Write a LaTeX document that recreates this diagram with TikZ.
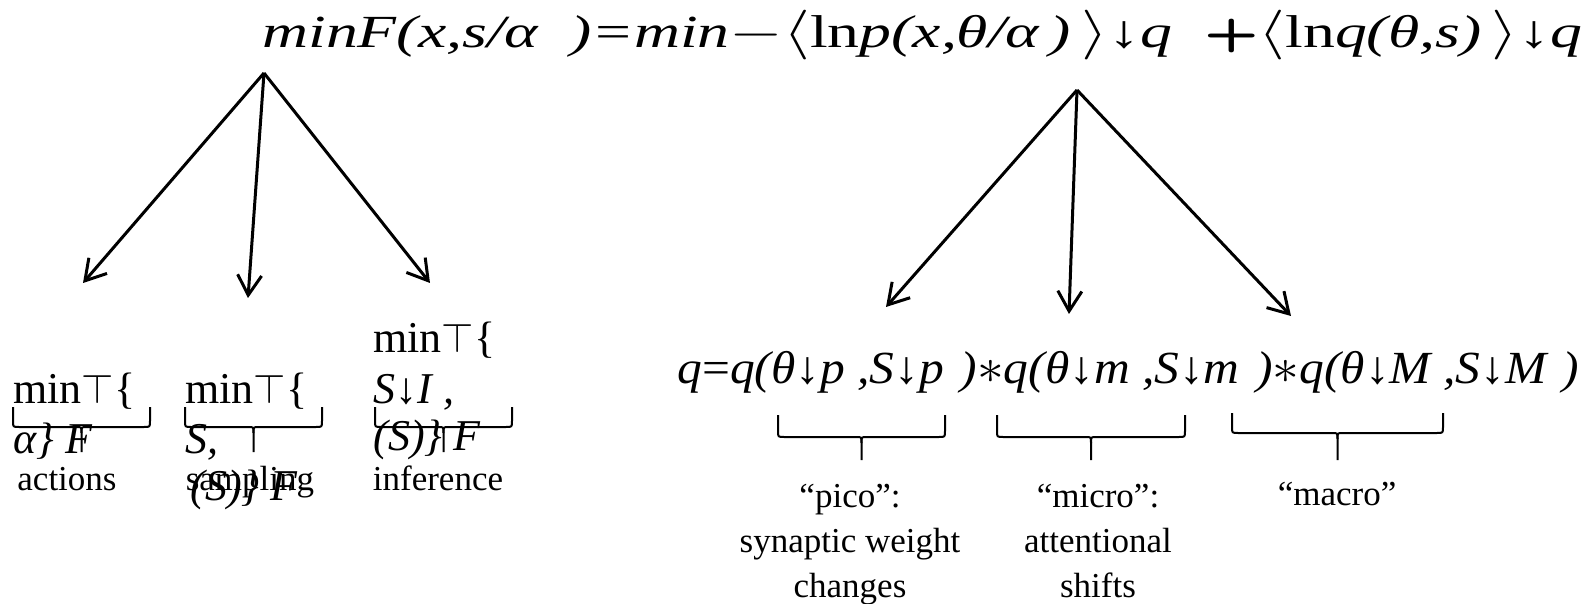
\documentclass[tikz,border=0pt]{standalone}
\usepackage{graphicx}
\usepackage{fontspec}
\setmainfont{Liberation Serif}
\usetikzlibrary{arrows.meta}
\begin{document}
\begin{tikzpicture}[x=0.5pt,y=-0.5pt,
  eq/.style={font=\fontsize{23}{27}\selectfont, inner sep=0pt, anchor=base west},
  part/.style={font=\fontsize{22}{26}\selectfont, inner sep=0pt, anchor=base west},
  lbl/.style={font=\fontsize{17.5}{22.5}\selectfont, align=center, inner sep=0pt, anchor=base},
  arr/.style={line width=1.5pt, -{Straight Barb[length=10pt,width=12pt,line width=1.5pt]}},
  brace/.style={line width=1pt}]
\useasboundingbox (0,0) rectangle (1596,604);
% top equation
\node[eq] (top) at (262,48) {\resizebox{660pt}{\height}{\itshape minF(x,s/α\ \ )=min$-\langle$\upshape ln\itshape p(x,θ/α\,)\,$\rangle$↓q\ \ {\upshape\sffamily\bfseries +}$\langle$\upshape ln\itshape q(θ,s)\,$\rangle$↓q}};
% left arrows
\coordinate (L0) at (264,73);
\coordinate (La) at (83,283);
\coordinate (Lb) at (248,298);
\coordinate (Lc) at (430,283);
\draw[arr] (L0) -- (La);
\draw[arr] (L0) -- (Lb);
\draw[arr] (L0) -- (Lc);
% right arrows
\coordinate (R0) at (1077,90);
\coordinate (Ra) at (886,307);
\coordinate (Rb) at (1069,314);
\coordinate (Rc) at (1291,316);
\draw[arr] (R0) -- (Ra);
\draw[arr] (R0) -- (Rb);
\draw[arr] (R0) -- (Rc);
% left parts
\node[part] (a1) at (13,403) {min$\top${\{}};
\node[part] (a2) at (13,453) {\itshape α\} F};
\node[part] (b1) at (185,403) {min$\top${\{}};
\node[part] (b2) at (185,453) {\itshape S,};
\node[part] (b3) at (190,500) {\itshape (S)\} F};
\node[part] (c1) at (373,352) {min$\top${\{}};
\node[part] (c2) at (373,403) {\itshape S↓I ,};
\node[part] (c3) at (373,450) {\itshape (S)\} F};
\node[lbl] (la) at (67,490) {actions};
\node[lbl] (lb) at (250,490) {sampling};
\node[lbl] (lc) at (438,490) {inference};
% left braces
\foreach \xa/\xb/\yt/\yh/\yb in {13/150/407/427/452, 185/322/407/427/452, 375/512/407/427/452}{
  \draw[brace] (\xa,\yt) -- (\xa,\yh-6) .. controls (\xa,\yh) .. (\xa+6,\yh)
     -- ({(\xa+\xb)/2-5},\yh) .. controls ({(\xa+\xb)/2},\yh) .. ({(\xa+\xb)/2},\yh+6) -- ({(\xa+\xb)/2},\yb);
  \draw[brace] (\xb,\yt) -- (\xb,\yh-6) .. controls (\xb,\yh) .. (\xb-6,\yh)
     -- ({(\xa+\xb)/2+5},\yh) .. controls ({(\xa+\xb)/2},\yh) .. ({(\xa+\xb)/2},\yh+6);
}
% right equation
\node[eq] (qeq) at (677,383) {\resizebox{451pt}{\height}{\itshape q{\upshape=}q(θ↓p ,S↓p\,\,)$\ast$q(θ↓m ,S↓m\,\,)$\ast$q(θ↓M ,S↓M\,\,)}};
% right braces
\foreach \xa/\xb/\yt/\yh/\yb in {778/945/415/437/460, 997/1185/415/437/460, 1232/1443/413/433/460}{
  \draw[brace] (\xa,\yt) -- (\xa,\yh-6) .. controls (\xa,\yh) .. (\xa+6,\yh)
     -- ({(\xa+\xb)/2-5},\yh) .. controls ({(\xa+\xb)/2},\yh) .. ({(\xa+\xb)/2},\yh+6) -- ({(\xa+\xb)/2},\yb);
  \draw[brace] (\xb,\yt) -- (\xb,\yh-6) .. controls (\xb,\yh) .. (\xb-6,\yh)
     -- ({(\xa+\xb)/2+5},\yh) .. controls ({(\xa+\xb)/2},\yh) .. ({(\xa+\xb)/2},\yh+6);
}
\node[lbl] (pico) at (850,597) {“pico”:\\synaptic weight\\changes};
\node[lbl] (micro) at (1098,597) {“micro”:\\attentional\\shifts};
\node[lbl] (macro) at (1337,505) {“macro”};
\end{tikzpicture}
\end{document}
